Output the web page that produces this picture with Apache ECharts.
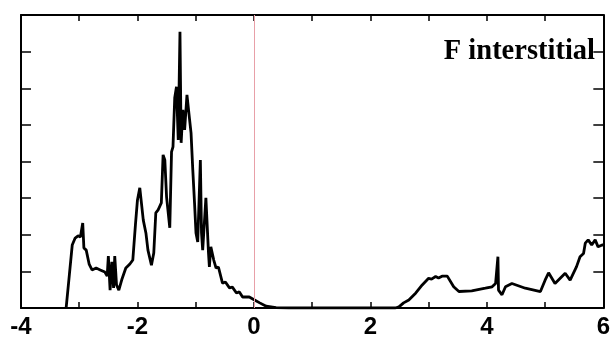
<!DOCTYPE html>
<html>
<head>
<meta charset="utf-8">
<script src="https://cdn.jsdelivr.net/npm/echarts@6/dist/echarts.min.js"></script>
<style>
  html, body { margin: 0; padding: 0; background: #fff; }
  #chart { width: 613px; height: 341px; }
</style>
</head>
<body>
<div id="chart"></div>
<script>
// energy (eV) and DOS values
const energy = [
  -3.225, -3.17, -3.12, -3.07, -3.02, -2.98, -2.94, -2.92, -2.88, -2.83,
  -2.78, -2.71, -2.64, -2.56, -2.52, -2.50, -2.47, -2.44, -2.41, -2.39,
  -2.36, -2.32, -2.27, -2.20, -2.13, -2.08, -2.035, -2.0, -1.96, -1.90,
  -1.855, -1.82, -1.76, -1.72, -1.685, -1.645, -1.59, -1.56, -1.53, -1.50,
  -1.445, -1.415, -1.39, -1.36, -1.33, -1.30, -1.27, -1.25, -1.22, -1.19,
  -1.15, -1.11, -1.08, -1.05, -1.02, -0.995, -0.965, -0.92, -0.90, -0.88,
  -0.825, -0.78, -0.765, -0.74, -0.69, -0.65, -0.61, -0.54, -0.49, -0.42,
  -0.37, -0.30, -0.25, -0.195, -0.08, 0.01, 0.10, 0.21, 0.38, 0.6,
  1.0, 2.0, 2.43, 2.49, 2.57, 2.66, 2.78, 2.89, 3.0, 3.05,
  3.12, 3.17, 3.23, 3.32, 3.43, 3.52, 3.74, 3.975, 4.09, 4.15,
  4.19, 4.20, 4.26, 4.32, 4.43, 4.66, 4.92, 5.0, 5.06, 5.17,
  5.345, 5.43, 5.54, 5.60, 5.66, 5.69, 5.74, 5.80, 5.86, 5.91,
  5.98, 6.0
];
const dos = [
  0, 0.90, 1.72, 1.91, 1.97, 1.94, 2.32, 1.64, 1.58, 1.20,
  1.04, 1.09, 1.04, 0.98, 0.87, 1.42, 0.49, 1.26, 0.55, 1.42,
  0.63, 0.49, 0.77, 1.09, 1.20, 1.31, 2.27, 2.95, 3.28, 2.40,
  2.05, 1.58, 1.17, 1.50, 2.60, 2.68, 2.87, 4.18, 4.04, 3.03,
  2.19, 4.26, 4.40, 5.74, 6.04, 4.59, 7.54, 4.51, 5.41, 4.86,
  5.82, 5.22, 4.78, 3.77, 2.87, 2.05, 1.80, 4.04, 2.05, 1.58,
  3.01, 1.50, 1.12, 1.67, 1.31, 1.09, 1.12, 0.68, 0.71, 0.55,
  0.57, 0.41, 0.44, 0.30, 0.30, 0.22, 0.14, 0.05, 0.01, 0,
  0, 0, 0, 0.03, 0.14, 0.22, 0.41, 0.63, 0.81, 0.79,
  0.86, 0.82, 0.87, 0.87, 0.58, 0.45, 0.47, 0.54, 0.58, 0.67,
  1.40, 0.49, 0.36, 0.58, 0.67, 0.54, 0.45, 0.76, 0.96, 0.67,
  0.95, 0.76, 1.13, 1.40, 1.49, 1.77, 1.86, 1.72, 1.86, 1.67,
  1.72, 1.72
];
const xTicks = [-4, -2, 0, 2, 4, 6];
const fermiLevel = 0;
const label = "F interstitial";

let chartDom = document.getElementById("chart");
let myChart = echarts.init(chartDom);

let points = energy.map((e, i) => [e, dos[i]]);

let frameLine = { show: true, onZero: false, lineStyle: { color: "#000", width: 2 } };

let option = {
  animation: false,
  grid: { left: 21, right: 8, top: 15, bottom: 33 },
  xAxis: [
    {
      type: "value",
      min: -4,
      max: 6,
      interval: 1,
      axisLine: frameLine,
      axisTick: { show: true, inside: true, length: 6, lineStyle: { color: "#000", width: 1.5 } },
      splitLine: { show: false },
      axisLabel: {
        show: true,
        margin: 7,
        color: "#000",
        fontFamily: "Liberation Sans",
        fontWeight: "bold",
        fontSize: 24,
        showMaxLabel: true,
        showMinLabel: true,
        formatter: (v) => (xTicks.indexOf(v) >= 0 ? String(v) : ""),
      },
    },
    {
      type: "value",
      position: "top",
      min: -4,
      max: 6,
      interval: 1,
      axisLine: frameLine,
      axisTick: { show: true, inside: true, length: 6, lineStyle: { color: "#000", width: 1.5 } },
      splitLine: { show: false },
      axisLabel: { show: false },
    },
  ],
  yAxis: [
    {
      type: "value",
      min: 0,
      max: 8,
      interval: 1,
      axisLine: frameLine,
      axisTick: { show: true, inside: true, length: 10, lineStyle: { color: "#000", width: 1.5 } },
      splitLine: { show: false },
      axisLabel: { show: false },
    },
    {
      type: "value",
      position: "right",
      min: 0,
      max: 8,
      interval: 1,
      axisLine: frameLine,
      axisTick: { show: true, inside: true, length: 10, lineStyle: { color: "#000", width: 1.5 } },
      splitLine: { show: false },
      axisLabel: { show: false },
    },
  ],
  graphic: [
    {
      type: "text",
      right: 18,
      top: 37,
      style: {
        text: label,
        fill: "#000",
        font: "bold 28.5px 'Liberation Serif'",
      },
    },
  ],
  series: [
    {
      type: "line",
      data: points,
      showSymbol: false,
      symbol: "none",
      smooth: false,
      lineStyle: { color: "#000", width: 2.8 },
      markLine: {
        symbol: ["none", "none"],
        silent: true,
        label: { show: false },
        lineStyle: { color: "#e8a0a8", width: 1, type: "solid" },
        data: [{ xAxis: fermiLevel }],
      },
    },
  ],
};
myChart.setOption(option);
</script>
</body>
</html>
